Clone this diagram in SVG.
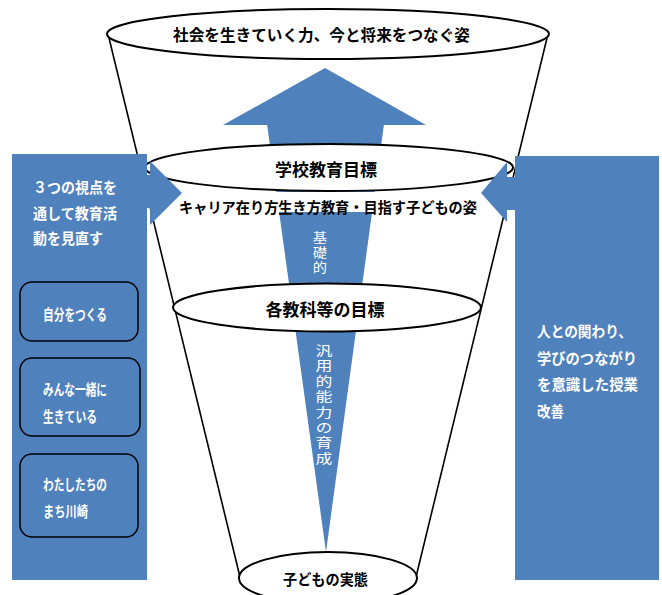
<svg xmlns="http://www.w3.org/2000/svg" width="662" height="595" viewBox="0 0 662 595">
<style>
.ell{fill:#fff;stroke:#000;stroke-width:2}
.ln{stroke:#000;stroke-width:1.6;fill:none}
.blue{fill:#4F81BD}
.t{font-family:"Noto Sans CJK JP","Noto Sans",sans-serif;font-weight:bold;fill:#000;dominant-baseline:central}
.w{font-family:"Noto Sans CJK JP","Noto Sans",sans-serif;font-weight:bold;fill:#fff;dominant-baseline:central}
.v{font-family:"Noto Sans CJK JP","Noto Sans",sans-serif;fill:#fff;writing-mode:vertical-rl;font-size:13px}
.box{fill:none;stroke:#000;stroke-width:1.5}
</style>
<rect width="662" height="595" fill="#fff"/>
<g id="connectors">
  <line class="ln" x1="109" y1="38" x2="240" y2="577"/>
  <line class="ln" x1="547" y1="38" x2="416" y2="577"/>
  <polygon class="blue" points="223,125 325,68 426,125"/>
  <polygon class="blue" points="267,124 384,124 326,552"/>
</g>
<g id="node-top">
  <ellipse class="ell" cx="328" cy="34" rx="221" ry="25"/>
  <text class="t" x="173" y="34" font-size="16" textLength="297" lengthAdjust="spacingAndGlyphs">社会を生きていく力、今と将来をつなぐ姿</text>
</g>
<g id="node-school">
  <ellipse class="ell" cx="329" cy="167.5" rx="184" ry="23.5"/>
  <text class="t" x="326" y="168" font-size="17" text-anchor="middle">学校教育目標</text>
</g>
<g id="node-career">
  <rect x="200" y="192" width="260" height="20" fill="#fff"/>
  <text class="t" x="179" y="206" font-size="15" textLength="298" lengthAdjust="spacingAndGlyphs">キャリア在り方生き方教育・目指す子どもの姿</text>
</g>
<g id="label-kiso">
  <text class="v" transform="translate(320,230.5) scale(1.1,1)" x="0" y="0" letter-spacing="2">基礎的</text>
</g>
<g id="node-subject">
  <ellipse class="ell" cx="327" cy="307.5" rx="154" ry="24"/>
  <text class="t" x="325" y="308" font-size="17" text-anchor="middle">各教科等の目標</text>
</g>
<g id="label-hanyo">
  <text class="v" transform="translate(324,343.5) scale(1.3,1)" x="0" y="0" letter-spacing="2.4">汎用的能力の育成</text>
</g>
<g id="node-bottom">
  <ellipse class="ell" cx="328" cy="578" rx="89" ry="26"/>
  <text class="t" x="283" y="578" font-size="15" textLength="85" lengthAdjust="spacingAndGlyphs">子どもの実態</text>
</g>
<g id="panel-left">
  <path class="blue" d="M12,154 H147 V175 H150 V161 L182,193 L150,225 V208 H147 V580 H12 Z"/>
  <text class="w" font-size="15"><tspan x="33" y="186" textLength="84" lengthAdjust="spacingAndGlyphs">３つの視点を</tspan><tspan x="33" y="212" textLength="84" lengthAdjust="spacingAndGlyphs">通して教育活</tspan><tspan x="33" y="237" textLength="70" lengthAdjust="spacingAndGlyphs">動を見直す</tspan></text>
</g>
<g id="box-1">
  <rect class="box" x="20" y="282" width="118" height="59" rx="12"/>
  <text class="w" x="43" y="313" font-size="15" textLength="64" lengthAdjust="spacingAndGlyphs">自分をつくる</text>
</g>
<g id="box-2">
  <rect class="box" x="20" y="358" width="120" height="78" rx="12"/>
  <text class="w" font-size="15"><tspan x="43" y="388" textLength="64" lengthAdjust="spacingAndGlyphs">みんな一緒に</tspan><tspan x="43" y="415" textLength="54" lengthAdjust="spacingAndGlyphs">生きている</tspan></text>
</g>
<g id="box-3">
  <rect class="box" x="20" y="454" width="118" height="83" rx="12"/>
  <text class="w" font-size="15"><tspan x="43" y="483" textLength="64" lengthAdjust="spacingAndGlyphs">わたしたちの</tspan><tspan x="43" y="510" textLength="45" lengthAdjust="spacingAndGlyphs">まち川崎</tspan></text>
</g>
<g id="panel-right">
  <path class="blue" d="M659,156 V580 H515 V210 H507 V222 L481,193 L507,162 V177 H515 V156 Z"/>
  <text class="w" font-size="15"><tspan x="537" y="330" textLength="95" lengthAdjust="spacingAndGlyphs">人との関わり、</tspan><tspan x="537" y="357" textLength="100" lengthAdjust="spacingAndGlyphs">学びのつながり</tspan><tspan x="537" y="383" textLength="101" lengthAdjust="spacingAndGlyphs">を意識した授業</tspan><tspan x="537" y="410" textLength="27" lengthAdjust="spacingAndGlyphs">改善</tspan></text>
</g>
</svg>
